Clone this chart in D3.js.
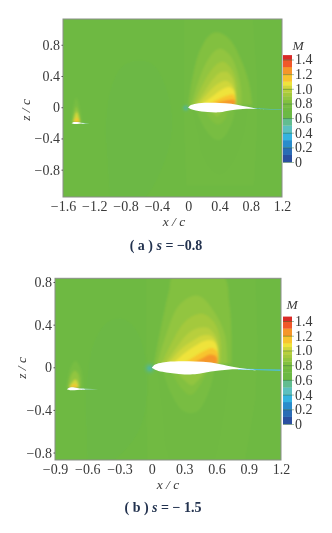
<!DOCTYPE html>
<html><head><meta charset="utf-8">
<script src="https://cdn.jsdelivr.net/npm/d3@7"></script>
<style>
html,body{margin:0;padding:0;background:#fff}
svg{display:block}
text{font-family:"Liberation Serif",serif;fill:#3a3a3a}
</style></head><body>
<svg id="c" width="332" height="533"></svg>
<script>
// Colour key
const bandEdges  = [0,.1,.2,.3,.4,.5,.6,.7,.75,.8,.85,.9,.95,1.0,1.05,1.1,1.2,1.3,1.4,1.46];
const bandColors = ["#2a4fa0","#2b6cb5","#2a8ccb","#35b3e0","#5cc0c0","#62bd90","#6cb944","#6fb943","#78bd42","#82c040","#92c53f","#a4c93e","#b8cf3d","#d0d73b","#efe33a","#f8c42e","#f5962a","#f0582a","#d92b27"];
const colorTicks = [0,.2,.4,.6,.8,1.0,1.2,1.4];

// Tick labels
const xTicksA = [-1.6,-1.2,-.8,-.4,0,.4,.8,1.2];
const zTicksA = [-.8,-.4,0,.4,.8];
const xTicksB = [-.9,-.6,-.3,0,.3,.6,.9,1.2];
const zTicksB = [-.8,-.4,0,.4,.8];

// Aerofoil outlines, x/c & z/c
const mainUpper = [[0,-.005],[.03,.025],[.1,.045],[.25,.056],[.4,.054],[.55,.045],[.7,.015],[.85,-.012],[.97,-.028]];
const mainLower = [[.85,-.02],[.7,-.022],[.55,-.04],[.4,-.066],[.25,-.062],[.1,-.042],[.03,-.022],[0,-.005]];
const wakeA = [[.8,-.012],[1.22,-.03],[1.22,-.036],[.8,-.02]];
const wakeB = [[.8,-.012],[1.22,-.022],[1.22,-.034],[.8,-.022]];

const smallA = [[-1.49,-.205],[-1.46,-.19],[-1.42,-.19],[-1.37,-.2],[-1.32,-.207],[-1.37,-.21],[-1.42,-.216],[-1.46,-.215]];
const smallWakeA = [[-1.36,-.2],[-1.26,-.207],[-1.36,-.212]];
const smallB = [[-.79,-.205],[-.76,-.19],[-.72,-.19],[-.67,-.2],[-.62,-.205],[-.67,-.21],[-.72,-.216],[-.76,-.215]];
const smallWakeB = [[-.66,-.2],[-.5,-.205],[-.66,-.21]];

// Contour levels (Mach) matching each nested outline
const upperLevels = [.82,.87,.92,.97,1.02,1.07,1.15,1.25];
const upperA = [
 [[0,.02],[.05,.35],[.14,.7],[.27,.92],[.37,.96],[.52,.88],[.68,.6],[.78,.3],[.82,.03]],
 [[.04,.03],[.12,.3],[.22,.55],[.34,.72],[.42,.75],[.54,.66],[.64,.42],[.68,.2],[.68,.03]],
 [[.07,.03],[.18,.28],[.28,.45],[.38,.56],[.46,.58],[.56,.48],[.62,.3],[.63,.03]],
 [[.1,.03],[.22,.22],[.32,.36],[.42,.45],[.5,.45],[.58,.34],[.6,.2],[.6,.03]],
 [[.13,.03],[.27,.2],[.38,.3],[.48,.34],[.55,.3],[.6,.2],[.6,.03]],
 [[.17,.03],[.3,.13],[.42,.22],[.52,.26],[.58,.22],[.6,.15],[.6,.03]],
 [[.26,.04],[.38,.1],[.5,.15],[.58,.16],[.6,.12],[.6,.03]],
 [[.34,.05],[.46,.08],[.56,.1],[.6,.09],[.6,.03]]
];
const upperB = [
 [[.02,.03],[.08,.35],[.16,.72],[.2,.86],[.66,.86],[.72,.6],[.74,.3],[.74,.03]],
 [[.05,.03],[.13,.3],[.25,.58],[.38,.67],[.46,.66],[.58,.52],[.68,.3],[.7,.03]],
 [[.09,.03],[.2,.26],[.3,.42],[.4,.49],[.48,.5],[.58,.42],[.64,.25],[.64,.03]],
 [[.12,.03],[.24,.2],[.34,.32],[.44,.37],[.52,.37],[.6,.28],[.62,.15],[.62,.03]],
 [[.15,.03],[.26,.16],[.38,.25],[.48,.3],[.56,.29],[.61,.2],[.61,.03]],
 [[.19,.03],[.3,.13],[.4,.2],[.5,.25],[.58,.24],[.61,.17],[.61,.03]],
 [[.3,.04],[.38,.09],[.48,.15],[.56,.18],[.61,.14],[.61,.03]],
 [[.38,.04],[.46,.08],[.54,.12],[.6,.1],[.61,.03]]
];
const lowerLevels = [.72,.77,.82,.87];
const lowerA = [
 [[.05,-.03],[.12,-.3],[.18,-.6],[.3,-.8],[.4,-.86],[.5,-.8],[.62,-.6],[.72,-.3],[.76,-.03]],
 [[.1,-.03],[.2,-.25],[.3,-.38],[.38,-.42],[.46,-.38],[.56,-.2],[.6,-.03]],
 [[.2,-.03],[.3,-.17],[.38,-.22],[.46,-.17],[.52,-.03]],
 [[.28,-.03],[.37,-.12],[.45,-.03]]
];
const lowerB = [
 [[.05,-.03],[.1,-.4],[.14,-.78],[.2,-.9],[.55,-.9],[.62,-.7],[.68,-.35],[.72,-.03]],
 [[.1,-.03],[.18,-.25],[.28,-.4],[.36,-.43],[.44,-.4],[.54,-.2],[.58,-.03]],
 [[.18,-.03],[.26,-.18],[.36,-.26],[.44,-.18],[.52,-.03]],
 [[.22,-.03],[.3,-.12],[.37,-.17],[.45,-.1],[.5,-.03]]
];
const smallLevels = [.77,.87,1.02,1.15];
const smallLobeA = [
 [[-1.49,-.19],[-1.47,-.02],[-1.43,.12],[-1.385,-.02],[-1.36,-.19]],
 [[-1.48,-.19],[-1.455,-.06],[-1.43,.01],[-1.4,-.06],[-1.375,-.19]],
 [[-1.47,-.19],[-1.44,-.08],[-1.425,-.06],[-1.405,-.1],[-1.385,-.19]],
 [[-1.46,-.19],[-1.43,-.14],[-1.405,-.15],[-1.39,-.19]]
];
const smallLobeB = [
 [[-.79,-.19],[-.76,-.02],[-.71,.06],[-.66,-.02],[-.64,-.19]],
 [[-.78,-.19],[-.75,-.07],[-.715,-.03],[-.68,-.07],[-.665,-.19]],
 [[-.77,-.19],[-.74,-.14],[-.71,-.115],[-.69,-.14],[-.68,-.19]],
 [[-.765,-.19],[-.735,-.165],[-.7,-.165],[-.69,-.19]]
];
// Faint far-field outlines
const domeA = [[-1.06,-.3],[-1.0,.2],[-.85,.52],[-.65,.6],[-.45,.55],[-.28,.25],[-.2,-.2],[-.3,-.7],[-.6,-1.2],[-1,-1.2]];
const domeB = [[-.62,-.3],[-.55,.2],[-.42,.42],[-.28,.46],[-.15,.36],[-.07,.15],[-.04,-.2],[-.12,-.6],[-.4,-.9],[-.6,-.9]];
const bandA = [[-.05,1.2],[.82,1.2],[.88,.3],[.88,-.2],[.84,-1],[-.02,-1],[-.05,-.2]];
const bandB = [[-.05,.9],[.96,.9],[.98,.2],[.96,-.3],[.86,-.9],[-.04,-.9],[-.05,-.2]];

const svg = d3.select("#c");
const defs = svg.append("defs");
defs.append("filter").attr("id","soft").append("feGaussianBlur").attr("stdDeviation",.9);
defs.append("filter").attr("id","softer").append("feGaussianBlur").attr("stdDeviation",.3);
const spot = defs.append("radialGradient").attr("id","spot");
spot.append("stop").attr("offset",0).attr("stop-color","#35b3e0").attr("stop-opacity",.8);
spot.append("stop").attr("offset",1).attr("stop-color","#6cb944").attr("stop-opacity",0);

const colorOf = d3.scaleThreshold().domain(bandEdges.slice(1,-1)).range(bandColors);

function panel(o){
  const x = d3.scaleLinear().domain(o.xd).range(o.xr);
  const z = d3.scaleLinear().domain(o.zd).range(o.zr);
  const smooth = d3.line().x(d=>x(d[0])).y(d=>z(d[1])).curve(d3.curveCatmullRom.alpha(.5));
  const straight = d3.line().x(d=>x(d[0])).y(d=>z(d[1])).curve(d3.curveLinear);
  const g = svg.append("g");
  const id = "clip"+o.id;
  defs.append("clipPath").attr("id",id).append("rect")
    .attr("x",o.xr[0]).attr("y",o.zr[1]).attr("width",o.xr[1]-o.xr[0]).attr("height",o.zr[0]-o.zr[1]);
  const p = g.append("g").attr("clip-path",`url(#${id})`).append("g").attr("filter","url(#soft)");
  p.append("rect").attr("x",o.xr[0]-5).attr("y",o.zr[1]-5).attr("width",o.xr[1]-o.xr[0]+10).attr("height",o.zr[0]-o.zr[1]+10).attr("fill","#6eb943");
  p.append("path").attr("d",straight(o.band)+"Z").attr("fill","#71ba43");
  p.append("path").attr("d",smooth(o.dome)+"Z").attr("fill","#6cb844");
  const lobes = (arr,lv)=>p.selectAll(null).data(arr).enter().append("path")
     .attr("d",d=>smooth(d)+"Z").attr("fill",(d,i)=>colorOf(lv[i]));
  lobes(o.lower,lowerLevels); lobes(o.upper,upperLevels); lobes(o.smallLobe,smallLevels);
  p.append("circle").attr("cx",x(o.spot[0])).attr("cy",z(o.spot[1])).attr("r",x(o.spot[2])-x(0)).attr("fill","url(#spot)");
  const q = g.append("g").attr("clip-path",`url(#${id})`).append("g").attr("filter","url(#softer)");
  q.append("path").attr("d",straight(o.wake)+"Z").attr("fill","#4fbfd8");
  q.append("path").attr("d",straight(o.smallWake)+"Z").attr("fill","#a8dcd0");
  q.append("path").attr("d",smooth(mainUpper.concat(mainLower))+"Z").attr("fill","#fff");
  q.append("path").attr("d",smooth(o.small)+"Z").attr("fill","#fff");
  // frame and axes
  g.append("rect").attr("x",o.xr[0]).attr("y",o.zr[1]).attr("width",o.xr[1]-o.xr[0]).attr("height",o.zr[0]-o.zr[1])
    .attr("fill","none").attr("stroke","#8a8f88").attr("stroke-width",1);
  const fmt = d=>(d<0?"\u2212":"")+(d===0?"0":Math.abs(d).toFixed(1));
  const ax = g.append("g").attr("transform",`translate(0,${o.zr[0]})`)
    .call(d3.axisBottom(x).tickValues(o.xt).tickFormat(fmt).tickSize(0).tickPadding(4));
  const ay = g.append("g").attr("transform",`translate(${o.xr[0]},0)`)
    .call(d3.axisLeft(z).tickValues(o.zt).tickFormat(fmt).tickSize(1.5).tickPadding(1.5));
  [ax,ay].forEach(a=>{a.select(".domain").remove();
    a.selectAll("line").attr("stroke","#555");
    a.selectAll("text").attr("font-size",14).attr("font-family","Liberation Serif").attr("fill","#333").attr("filter","url(#softer)");});
  // colour bar
  const cy = d3.scaleLinear().domain([0,1.4]).range(o.cr);
  const cb = g.append("g").attr("filter","url(#softer)");
  cb.selectAll(null).data(bandColors).enter().append("rect")
    .attr("x",o.cx).attr("width",9)
    .attr("y",(d,i)=>cy(bandEdges[i+1]))
    .attr("height",(d,i)=>cy(bandEdges[i])-cy(bandEdges[i+1])+.3)
    .attr("fill",d=>d);
  const ca = g.append("g").attr("transform",`translate(${o.cx+9},0)`)
    .call(d3.axisRight(cy).tickValues(colorTicks).tickFormat(d=>d===0?"0":d.toFixed(1)).tickSize(2).tickPadding(1));
  ca.select(".domain").remove();
  ca.selectAll("line").attr("x1",-9).attr("x2",2).attr("stroke","#24602a").attr("stroke-opacity",.6).attr("stroke-width",.7);
  ca.selectAll("text").attr("font-size",14).attr("font-family","Liberation Serif").attr("fill","#333").attr("filter","url(#softer)");
  const label = (t,lx,ly,rot)=>g.append("text").attr("x",lx).attr("y",ly).attr("text-anchor","middle")
     .attr("font-size",13.5).attr("font-style","italic").attr("dominant-baseline","middle")
     .attr("transform",rot?`rotate(-90 ${lx} ${ly})`:null).attr("filter","url(#softer)").text(t);
  label("x / c",o.xl[0],o.xl[1]); label("z / c",o.zl[0],o.zl[1],true); label("M",o.ml[0],o.ml[1]);
  const cap = g.append("text").attr("x",o.cap[0]).attr("y",o.cap[1]).attr("text-anchor","middle").attr("dominant-baseline","middle")
    .attr("font-size",14).attr("font-weight","bold").attr("filter","url(#softer)");
  cap.append("tspan").attr("fill","#24334f").text(o.capA);
  cap.append("tspan").attr("font-style","italic").attr("fill","#24334f").text("s");
  cap.append("tspan").attr("fill","#24334f").text(o.capB);
}

panel({id:"a",xd:[-1.6,1.2],xr:[63,282],zd:[-1.15,1.13],zr:[197,19],xt:xTicksA,zt:zTicksA,
  upper:upperA,lower:lowerA,smallLobe:smallLobeA,small:smallA,smallWake:smallWakeA,wake:wakeA,dome:domeA,band:bandA,spot:[-.03,-.01,.06],
  cx:283,cr:[162,59.5],xl:[174,223],zl:[27,110],ml:[298,47],cap:[166,247],capA:"( a )  ",capB:" = \u22120.8"});
panel({id:"b",xd:[-.9,1.2],xr:[55,281],zd:[-.87,.835],zr:[460,278.3],xt:xTicksB,zt:zTicksB,
  upper:upperB,lower:lowerB,smallLobe:smallLobeB,small:smallB,smallWake:smallWakeB,wake:wakeB,dome:domeB,band:bandB,spot:[-.02,-.01,.07],
  cx:283,cr:[424,321],xl:[168,486],zl:[23,368],ml:[292,306],cap:[163,509],capA:"( b ) ",capB:" = \u2212 1.5"});
</script>
</body></html>
